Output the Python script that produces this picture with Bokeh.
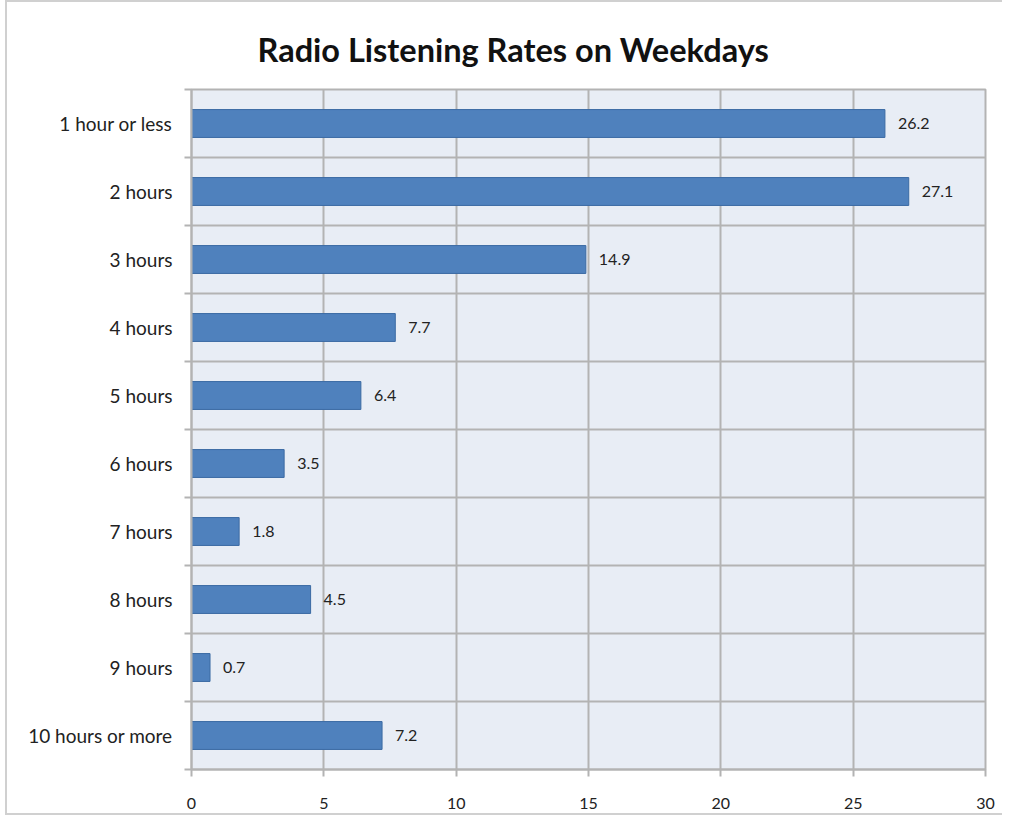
from bokeh.plotting import figure
from bokeh.models import ColumnDataSource, FixedTicker, Range1d, LabelSet
from bokeh.core.properties import value
from bokeh.embed import file_html
from bokeh.resources import INLINE

categories = ["1 hour or less", "2 hours", "3 hours", "4 hours", "5 hours",
              "6 hours", "7 hours", "8 hours", "9 hours", "10 hours or more"]
values = [26.2, 27.1, 14.9, 7.7, 6.4, 3.5, 1.8, 4.5, 0.7, 7.2]
x_ticks = [0, 5, 10, 15, 20, 25, 30]

n = len(categories)
pos = [i + 0.5 for i in range(n)]
src = ColumnDataSource(dict(y=pos, v=values, lab=[f"{v:.1f}" for v in values]))

FONT = "Lato"
GRID = "#b3b3b3"
TXT = "#222222"

p = figure(width=997, height=815, output_backend="svg", toolbar_location=None,
           x_range=Range1d(0, 30), y_range=Range1d(n, 0),
           min_border_left=184, min_border_right=19, min_border_top=87, min_border_bottom=48)

p.title.text = "Radio Listening Rates on Weekdays"
p.title.align = "left"
p.title.offset = 66
p.title.text_font = FONT
p.title.text_font_size = "32.5px"
p.title.text_font_style = "bold"
p.title.text_color = "#111111"
p.title.standoff = 42

p.background_fill_color = "#e8edf5"
p.border_fill_color = "white"
p.outline_line_color = GRID
p.outline_line_width = 2

p.hbar(y="y", right="v", left=0, height=0.41, source=src,
       fill_color="#4f81bd", line_color="#3b6aa3", line_width=1)

labels = LabelSet(x="v", y="y", text="lab", source=src, x_offset=13,
                  text_align="left", text_baseline="middle",
                  text_font=value(FONT), text_font_size=value("16px"), text_color=TXT)
p.add_layout(labels)

# y axis: labels at band centers, tick marks at band boundaries (minor ticks)
yt = FixedTicker(ticks=pos, minor_ticks=list(range(n + 1)))
p.yaxis.ticker = yt
p.yaxis.major_label_overrides = {pv: c for pv, c in zip(pos, categories)}
p.yaxis.major_tick_out = 0
p.yaxis.major_tick_in = 0
p.yaxis.minor_tick_out = 7
p.yaxis.minor_tick_in = 0
p.yaxis.minor_tick_line_color = GRID
p.yaxis.minor_tick_line_width = 2
p.yaxis.axis_line_color = GRID
p.yaxis.axis_line_width = 2
p.yaxis.major_label_standoff = 12
p.yaxis.major_label_text_font = FONT
p.yaxis.major_label_text_font_size = "19px"
p.yaxis.major_label_text_color = TXT

p.xaxis.ticker = FixedTicker(ticks=x_ticks, minor_ticks=[])
p.xaxis.major_tick_out = 7
p.xaxis.major_tick_in = 0
p.xaxis.major_tick_line_color = GRID
p.xaxis.major_tick_line_width = 2
p.xaxis.minor_tick_line_color = None
p.xaxis.axis_line_color = GRID
p.xaxis.axis_line_width = 2
p.xaxis.major_label_standoff = 21
p.xaxis.major_label_text_font = FONT
p.xaxis.major_label_text_font_size = "16px"
p.xaxis.major_label_text_color = TXT

p.xgrid.ticker = FixedTicker(ticks=x_ticks)
p.xgrid.grid_line_color = GRID
p.xgrid.grid_line_width = 2
p.ygrid.ticker = yt
p.ygrid.grid_line_color = None
p.ygrid.minor_grid_line_color = GRID
p.ygrid.minor_grid_line_width = 2

p.styles = {"border-left": "2px solid #d0d0d0", "border-top": "2px solid #d0d0d0",
            "border-bottom": "2px solid #d0d0d0", "margin-left": "5px"}

open("out.html", "w").write(file_html(p, INLINE))
